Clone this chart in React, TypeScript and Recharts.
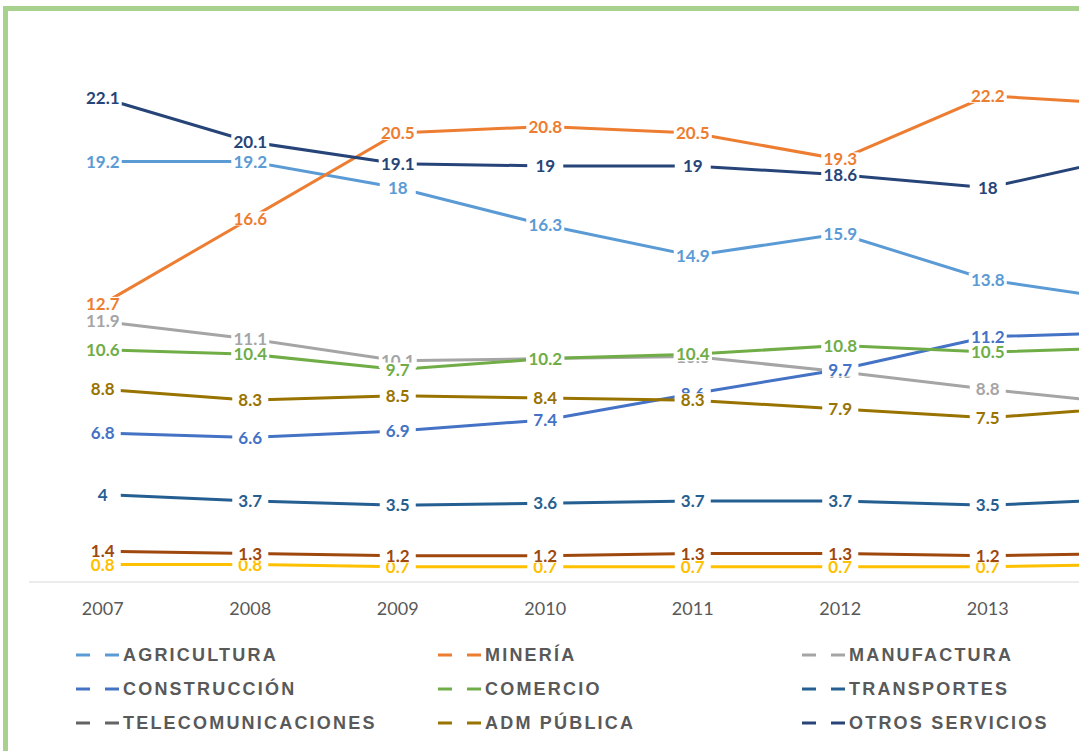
import React from 'react';
import { LineChart, Line, XAxis, YAxis, Legend, LabelList } from 'recharts';

const years = ['2007', '2008', '2009', '2010', '2011', '2012', '2013', '2014'];

const agricultura = [19.2, 19.2, 18, 16.3, 14.9, 15.9, 13.8, 12.8];
const mineria = [12.7, 16.6, 20.5, 20.8, 20.5, 19.3, 22.2, 21.8];
const manufactura = [11.9, 11.1, 10.1, 10.2, 10.3, 9.6, 8.8, 8.1];
const electricidad = [0.8, 0.8, 0.7, 0.7, 0.7, 0.7, 0.7, 0.8];
const construccion = [6.8, 6.6, 6.9, 7.4, 8.6, 9.7, 11.2, 11.4];
const comercio = [10.6, 10.4, 9.7, 10.2, 10.4, 10.8, 10.5, 10.7];
const transportes = [4, 3.7, 3.5, 3.6, 3.7, 3.7, 3.5, 3.8];
const pesca = [1.4, 1.3, 1.2, 1.2, 1.3, 1.3, 1.2, 1.3];
const telecomunicaciones: (number | null)[] = [null, null, null, null, null, null, null, null];
const admPublica = [8.8, 8.3, 8.5, 8.4, 8.3, 7.9, 7.5, 8.0];
const otrosServicios = [22.1, 20.1, 19.1, 19, 19, 18.6, 18, 19.5];

type Series = { key: string; name: string; color: string; values: (number | null)[]; legend: boolean };

const series: Series[] = [
  { key: 'agricultura', name: 'AGRICULTURA', color: '#5B9BD5', values: agricultura, legend: true },
  { key: 'mineria', name: 'MINERÍA', color: '#ED7D31', values: mineria, legend: true },
  { key: 'manufactura', name: 'MANUFACTURA', color: '#A5A5A5', values: manufactura, legend: true },
  { key: 'electricidad', name: 'ELECTRICIDAD', color: '#FFC000', values: electricidad, legend: false },
  { key: 'construccion', name: 'CONSTRUCCIÓN', color: '#4472C4', values: construccion, legend: true },
  { key: 'comercio', name: 'COMERCIO', color: '#70AD47', values: comercio, legend: true },
  { key: 'transportes', name: 'TRANSPORTES', color: '#255E91', values: transportes, legend: true },
  { key: 'pesca', name: 'PESCA', color: '#9E480E', values: pesca, legend: false },
  { key: 'telecomunicaciones', name: 'TELECOMUNICACIONES', color: '#636363', values: telecomunicaciones, legend: true },
  { key: 'admPublica', name: 'ADM PÚBLICA', color: '#997300', values: admPublica, legend: true },
  { key: 'otrosServicios', name: 'OTROS SERVICIOS', color: '#264478', values: otrosServicios, legend: true },
];

const data = years.map((year, i) => {
  const row: Record<string, any> = { year };
  series.forEach((s) => {
    row[s.key] = s.values[i];
  });
  return row;
});

const textWidth = (s: string) => {
  let w = 0;
  for (const c of s) w += c === '.' ? 4.3 : 9.9;
  return w;
};

const makeLabel = (color: string) => (props: any) => {
  const { x, y, value } = props;
  if (value === null || value === undefined || x === undefined || y === undefined) return null;
  const txt = String(value);
  const tw = textWidth(txt);
  const bw = Math.max(tw + 4, 36);
  const bh = 14;
  return (
    <g>
      <rect x={x - bw / 2} y={y - bh / 2} width={bw} height={bh} fill="#FFFFFF" />
      <text
        x={x}
        y={y + 6.1}
        textAnchor="middle"
        fill={color}
        fontFamily="Lato"
        fontWeight={700}
        fontSize={17}
      >
        {txt}
      </text>
    </g>
  );
};

const colLeft = [68, 430, 794];

const renderLegend = () => {
  const entries = series.filter((s) => s.legend);
  return (
    <div style={{ position: 'relative', width: 1221, height: 110 }}>
      {entries.map((s, i) => {
        const col = i % 3;
        const row = Math.floor(i / 3);
        return (
          <div
            key={s.key}
            style={{
              position: 'absolute',
              left: colLeft[col],
              top: row * 34,
              height: 34,
              display: 'flex',
              alignItems: 'center',
              whiteSpace: 'nowrap',
            }}
          >
            <svg width={47} height={34} style={{ display: 'block' }}>
              <line x1={0} y1={17} x2={14} y2={17} stroke={s.color} strokeWidth={3} />
              <line x1={29} y1={17} x2={43} y2={17} stroke={s.color} strokeWidth={3} />
            </svg>
            <span
              style={{
                fontFamily: '"Liberation Sans", Arial, sans-serif',
                fontWeight: 700,
                fontSize: 18,
                letterSpacing: 2.2,
                color: '#595959',
                lineHeight: '34px',
              }}
            >
              {s.name}
            </span>
          </div>
        );
      })}
    </div>
  );
};

export default function App() {
  return (
    <div
      style={{
        position: 'fixed',
        left: 0,
        top: 0,
        width: 1079,
        height: 751,
        overflow: 'hidden',
        background: '#FFFFFF',
      }}
    >
      <div
        style={{
          position: 'absolute',
          left: 3,
          top: 6,
          width: 1300,
          height: 800,
          border: '5px solid #A9D18E',
          background: '#FFFFFF',
        }}
      >
        <LineChart
          width={1221}
          height={740}
          data={data}
          margin={{ top: 23.5, right: 20, bottom: 139, left: 21 }}
          style={{ fontFamily: 'Lato' }}
        >
          <XAxis
            dataKey="year"
            interval={0}
            tickLine={false}
            axisLine={{ stroke: '#D9D9D9', strokeWidth: 1 }}
            tick={{ fill: '#595959', fontSize: 18, fontFamily: 'Lato' }}
            tickMargin={14}
            padding={{ left: 73.75, right: 73.75 }}
            height={30}
          />
          <YAxis hide domain={[0, 25]} />
          {series.map((s) => (
            <Line
              key={s.key}
              dataKey={s.key}
              name={s.name}
              stroke={s.color}
              strokeWidth={3}
              dot={false}
              activeDot={false}
              isAnimationActive={false}
              connectNulls={false}
              legendType={s.legend ? 'line' : 'none'}
            />
          ))}
          {series.map((s) => (
            <Line
              key={s.key + '-labels'}
              dataKey={s.key}
              stroke="none"
              strokeWidth={0}
              dot={false}
              activeDot={false}
              isAnimationActive={false}
              legendType="none"
            >
              <LabelList dataKey={s.key} content={makeLabel(s.color)} />
            </Line>
          ))}
          <Legend
            verticalAlign="middle"
            layout="horizontal"
            content={renderLegend}
            wrapperStyle={{ left: 0, top: 627, width: 1221 }}
          />
        </LineChart>
      </div>
    </div>
  );
}
